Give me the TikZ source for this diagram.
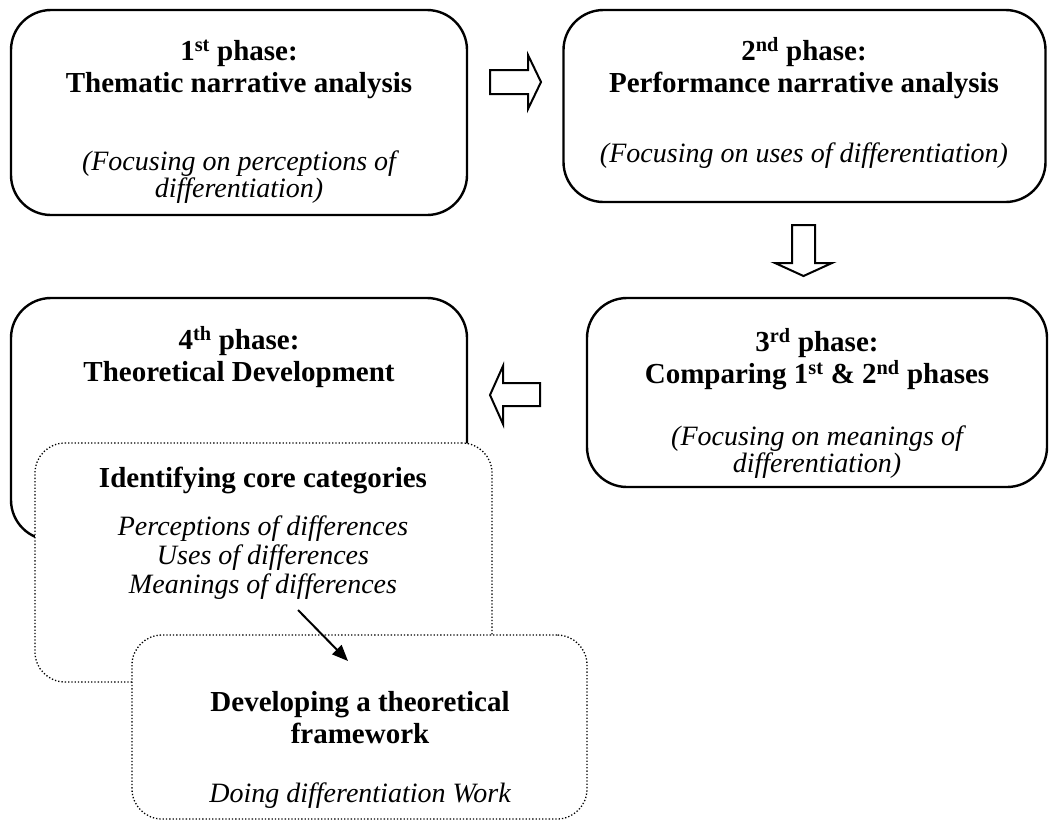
\documentclass[tikz,border=0pt]{standalone}
\usepackage{fontspec}
\setmainfont{Liberation Serif}
\usetikzlibrary{arrows.meta}
\begin{document}
\begin{tikzpicture}[x=1pt,y=-1pt,
  phasebox/.style={draw, line width=2.4pt, rounded corners=40pt, fill=white, inner sep=0pt},
  stagebox/.style={draw, line width=1.3pt, dotted, rounded corners=30pt, fill=white, inner sep=0pt},
  title/.style={align=center, inner sep=0pt, font=\fontsize{29}{32}\selectfont\bfseries},
  note/.style={align=center, inner sep=0pt, font=\fontsize{28}{27}\selectfont\itshape},
  blockarrow/.style={draw, line width=2pt, fill=white, line join=miter},
  link/.style={line width=2pt, -{Triangle[length=16pt,width=13pt]}}
]
\useasboundingbox (0,0) rectangle (1059,823);

% four phases
\node[phasebox, minimum width=456pt, minimum height=205pt] (p1) at (239,112.5) {};
\node[phasebox, minimum width=482pt, minimum height=192pt] (p2) at (804.5,106) {};
\node[phasebox, minimum width=460pt, minimum height=189pt] (p3) at (817,392.5) {};
\node[phasebox, minimum width=456pt, minimum height=242pt] (p4) at (239,419) {};

% sub-stages of the fourth phase
\node[stagebox, minimum width=457pt, minimum height=239pt] (s1) at (263.5,562.5) {};
\node[stagebox, minimum width=455pt, minimum height=184pt] (s2) at (359.5,727) {};

% texts
\node[title] (p1t) at (239,69) {1\textsuperscript{st} phase:\\Thematic narrative analysis};
\node[note]  (p1n) at (239,177) {(Focusing on perceptions of\\differentiation)};
\node[title] (p2t) at (804,68) {2\textsuperscript{nd} phase:\\Performance narrative analysis};
\node[note]  (p2n) at (804,156) {(Focusing on uses of differentiation)};
\node[title] (p3t) at (817,359) {3\textsuperscript{rd} phase:\\Comparing 1\textsuperscript{st} \& 2\textsuperscript{nd} phases};
\node[note]  (p3n) at (817,452) {(Focusing on meanings of\\differentiation)};
\node[title] (p4t) at (239,357) {4\textsuperscript{th} phase:\\Theoretical Development};

\node[title] (s1t) at (263,480) {Identifying core categories};
\node[note, font=\fontsize{28}{29}\selectfont\itshape] (s1n) at (263,558)
  {Perceptions of differences\\Uses of differences\\Meanings of differences};
\node[title] (s2t) at (360,718) {Developing a theoretical\\framework};
\node[note]  (s2n) at (360,796) {Doing differentiation Work};

% block arrows between the phases
\draw[blockarrow] (490,70) -- (528,70) -- (528,55) -- (541,82) -- (528,109) -- (528,94) -- (490,94) -- cycle;
\draw[blockarrow] (792,225) -- (815,225) -- (815,263) -- (832,263) -- (803.5,276) -- (775,263) -- (792,263) -- cycle;
\draw[blockarrow] (540,383) -- (503,383) -- (503,366) -- (490,395) -- (503,424) -- (503,406) -- (540,406) -- cycle;

% link from the core categories to the framework
\coordinate (l0) at (298,610);
\coordinate (l1) at (348,661);
\draw[link] (l0) -- (l1);
\end{tikzpicture}
\end{document}
